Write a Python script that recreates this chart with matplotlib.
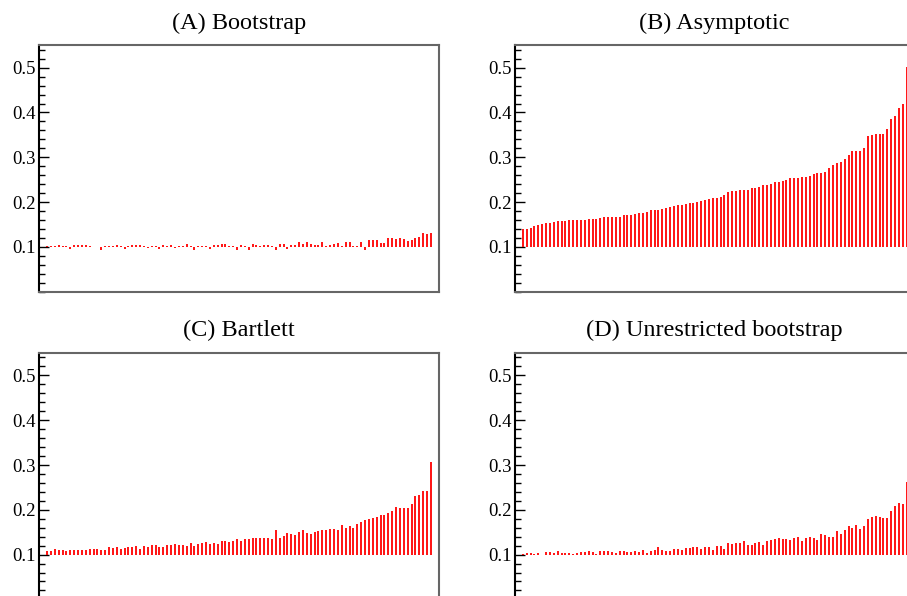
import matplotlib.pyplot as plt
from matplotlib.ticker import MultipleLocator

plt.rcParams['font.family'] = ['Liberation Serif', 'DejaVu Serif']

# values, 100 replications per panel
bootstrap = [
    0.101, 0.101, 0.101, 0.104, 0.102, 0.102, 0.095, 0.104, 0.105, 0.104,
    0.104, 0.101, 0.100, 0.100, 0.093, 0.101, 0.102, 0.101, 0.105, 0.102,
    0.096, 0.103, 0.104, 0.104, 0.104, 0.102, 0.097, 0.101, 0.102, 0.095,
    0.104, 0.101, 0.104, 0.098, 0.103, 0.101, 0.107, 0.101, 0.093, 0.103,
    0.103, 0.101, 0.096, 0.104, 0.104, 0.106, 0.107, 0.102, 0.101, 0.092,
    0.105, 0.101, 0.093, 0.107, 0.104, 0.103, 0.104, 0.104, 0.103, 0.093,
    0.106, 0.107, 0.096, 0.104, 0.104, 0.110, 0.106, 0.110, 0.107, 0.104,
    0.105, 0.111, 0.101, 0.104, 0.107, 0.109, 0.101, 0.110, 0.110, 0.103,
    0.101, 0.112, 0.093, 0.116, 0.115, 0.115, 0.108, 0.109, 0.119, 0.119,
    0.118, 0.120, 0.118, 0.113, 0.116, 0.119, 0.123, 0.131, 0.128, 0.131,
]
asymptotic = [
    0.139, 0.140, 0.142, 0.147, 0.149, 0.151, 0.154, 0.154, 0.155, 0.157,
    0.158, 0.158, 0.159, 0.159, 0.159, 0.159, 0.161, 0.163, 0.163, 0.163,
    0.164, 0.166, 0.166, 0.166, 0.166, 0.167, 0.171, 0.172, 0.172, 0.174,
    0.175, 0.176, 0.177, 0.182, 0.183, 0.183, 0.184, 0.186, 0.189, 0.192,
    0.193, 0.193, 0.195, 0.197, 0.198, 0.200, 0.202, 0.205, 0.207, 0.209,
    0.209, 0.212, 0.216, 0.223, 0.224, 0.225, 0.227, 0.227, 0.228, 0.231,
    0.232, 0.233, 0.238, 0.238, 0.241, 0.245, 0.245, 0.248, 0.249, 0.253,
    0.254, 0.254, 0.255, 0.255, 0.259, 0.263, 0.266, 0.266, 0.267, 0.276,
    0.283, 0.287, 0.290, 0.296, 0.306, 0.314, 0.315, 0.315, 0.320, 0.348,
    0.350, 0.351, 0.353, 0.353, 0.364, 0.386, 0.393, 0.409, 0.420, 0.502,
]
bartlett = [
    0.108, 0.107, 0.112, 0.110, 0.110, 0.109, 0.111, 0.111, 0.111, 0.110,
    0.111, 0.113, 0.113, 0.113, 0.110, 0.110, 0.116, 0.115, 0.116, 0.112,
    0.114, 0.118, 0.118, 0.119, 0.113, 0.120, 0.117, 0.122, 0.122, 0.116,
    0.116, 0.122, 0.122, 0.123, 0.122, 0.122, 0.120, 0.125, 0.119, 0.123,
    0.125, 0.129, 0.123, 0.127, 0.123, 0.131, 0.130, 0.129, 0.130, 0.135,
    0.130, 0.134, 0.135, 0.138, 0.138, 0.138, 0.138, 0.138, 0.135, 0.154,
    0.138, 0.142, 0.148, 0.145, 0.144, 0.150, 0.154, 0.149, 0.147, 0.151,
    0.153, 0.155, 0.155, 0.157, 0.157, 0.156, 0.165, 0.160, 0.163, 0.160,
    0.168, 0.172, 0.177, 0.180, 0.182, 0.185, 0.189, 0.188, 0.192, 0.198,
    0.207, 0.205, 0.205, 0.205, 0.214, 0.230, 0.234, 0.243, 0.243, 0.306,
]
unrestricted = [
    0.102, 0.103, 0.104, 0.101, 0.104, 0.100, 0.106, 0.106, 0.104, 0.107,
    0.104, 0.103, 0.104, 0.101, 0.104, 0.106, 0.106, 0.108, 0.105, 0.102,
    0.108, 0.109, 0.109, 0.106, 0.104, 0.107, 0.107, 0.105, 0.105, 0.109,
    0.106, 0.111, 0.104, 0.108, 0.110, 0.116, 0.111, 0.107, 0.109, 0.112,
    0.113, 0.110, 0.115, 0.115, 0.116, 0.118, 0.113, 0.117, 0.118, 0.110,
    0.120, 0.119, 0.113, 0.127, 0.124, 0.125, 0.125, 0.130, 0.122, 0.122,
    0.127, 0.128, 0.122, 0.131, 0.132, 0.134, 0.136, 0.134, 0.134, 0.132,
    0.137, 0.140, 0.131, 0.136, 0.139, 0.137, 0.132, 0.145, 0.144, 0.140,
    0.140, 0.153, 0.147, 0.156, 0.163, 0.159, 0.165, 0.158, 0.164, 0.180,
    0.183, 0.186, 0.183, 0.181, 0.182, 0.198, 0.208, 0.216, 0.214, 0.262,
]

titles = ['(A) Bootstrap', '(B) Asymptotic', '(C) Bartlett',
          '(D) Unrestricted bootstrap']
panels = [bootstrap, asymptotic, bartlett, unrestricted]
nominal = 0.1

fig = plt.figure(figsize=(9.07, 5.96), dpi=100)

# axes boxes in figure fractions, the right/bottom edges run slightly off the canvas
lefts = [0.0433, 0.5678]
bottoms = [0.5106, -0.0057]
w, h = 0.4404, 0.4134

for i, (title, vals) in enumerate(zip(titles, panels)):
    ax = fig.add_axes([lefts[i % 2], bottoms[i // 2], w, h])
    x = range(1, len(vals) + 1)
    ax.vlines(x, nominal, vals, color='#ff0000', lw=1.3)
    ax.set_xlim(-1, len(vals) + 2)
    ax.set_ylim(0, 0.55)
    ax.set_xticks([])
    ax.set_yticks([0.1, 0.2, 0.3, 0.4, 0.5])
    ax.set_yticklabels(['0.1', '0.2', '0.3', '0.4', '0.5'])
    ax.yaxis.set_minor_locator(MultipleLocator(0.02))
    ax.tick_params(axis='y', which='major', direction='in', length=7,
                   width=1.0, labelsize=13.5, pad=2.5)
    ax.tick_params(axis='y', which='minor', direction='in', length=4, width=1.0)
    for sp in ax.spines.values():
        sp.set_color('#666666')
        sp.set_linewidth(1.5)
    ax.spines['left'].set_color('black')
    ax.set_title(title, fontsize=17.5, pad=12)

fig.savefig('out.png', dpi=100)
